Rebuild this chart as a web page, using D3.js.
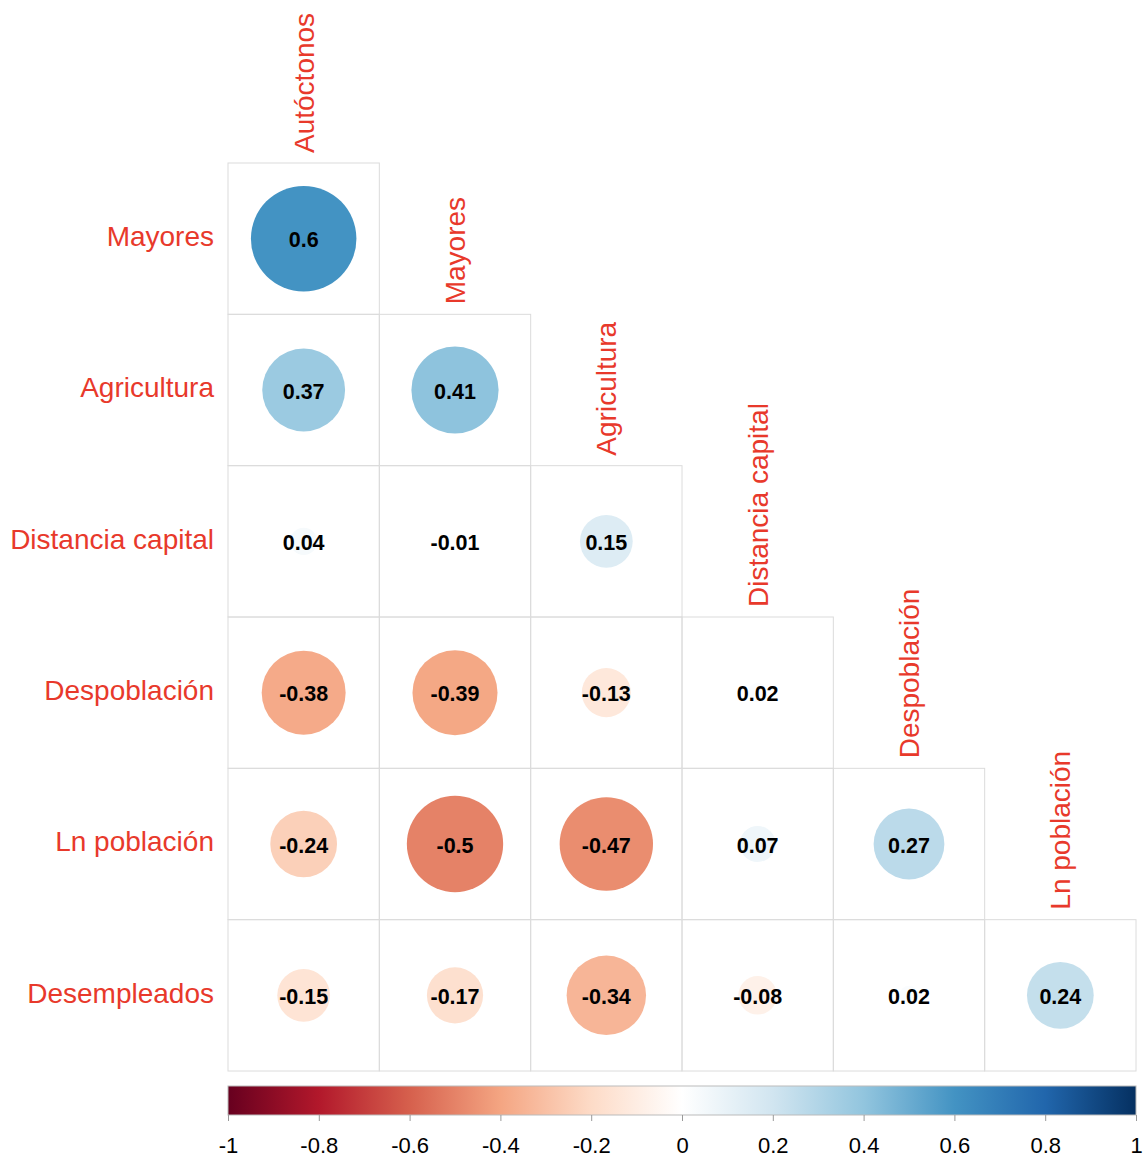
<!DOCTYPE html>
<html><head><meta charset="utf-8">
<script src="https://cdn.jsdelivr.net/npm/d3@7"></script>
<style>body{margin:0;background:#fff}</style>
</head><body>
<svg id="c" width="1146" height="1160"></svg>
<script>
const rowVars = ["Mayores","Agricultura","Distancia capital","Despoblación","Ln población","Desempleados"];
const colVars = ["Autóctonos","Mayores","Agricultura","Distancia capital","Despoblación","Ln población"];
const corrValues = [
  [0.6],
  [0.37, 0.41],
  [0.04, -0.01, 0.15],
  [-0.38, -0.39, -0.13, 0.02],
  [-0.24, -0.5, -0.47, 0.07, 0.27],
  [-0.15, -0.17, -0.34, -0.08, 0.02, 0.24]
];
const paletteColors = ["#67001F","#B2182B","#D6604D","#F4A582","#FDDBC7","#FFFFFF","#D1E5F0","#92C5DE","#4393C3","#2166AC","#053061"];
const legendTicks = [-1,-0.8,-0.6,-0.4,-0.2,0,0.2,0.4,0.6,0.8,1];

const svg = d3.select("#c");
const x0 = 228, x1 = 1136, y0 = 163, y1 = 1071;
const x = d3.scaleBand().domain(colVars.map((d,i)=>i)).range([x0,x1]);
const y = d3.scaleBand().domain(rowVars.map((d,i)=>i)).range([y0,y1]);
const cell = x.bandwidth();
const color = d3.scaleLinear().domain(d3.range(11).map(i=>-1+i*0.2)).range(paletteColors).interpolate(d3.interpolateRgb);
const rScale = v => 0.9*cell/2*Math.sqrt(Math.abs(v));
const font = "'Liberation Sans', Arial, Helvetica, sans-serif";

const cells = [];
corrValues.forEach((row,i)=>row.forEach((v,j)=>cells.push({i,j,v})));

const g = svg.append("g");
g.selectAll("rect.cell").data(cells).join("rect")
  .attr("x",d=>x(d.j)).attr("y",d=>y(d.i)).attr("width",cell).attr("height",cell)
  .attr("fill","none").attr("stroke","#dcdcdc").attr("stroke-width",1);
g.selectAll("circle").data(cells).join("circle")
  .attr("cx",d=>x(d.j)+cell/2).attr("cy",d=>y(d.i)+cell/2)
  .attr("r",d=>rScale(d.v)).attr("fill",d=>color(d.v));
g.selectAll("text.val").data(cells).join("text")
  .attr("x",d=>x(d.j)+cell/2).attr("y",d=>y(d.i)+cell/2)
  .attr("dy","0.4em").attr("text-anchor","middle")
  .attr("font-family",font).attr("font-weight","bold")
  .attr("font-size",21.5).attr("fill","#000")
  .text(d=>String(d.v));

const labColor = "#E8392B";
svg.selectAll("text.rl").data(rowVars).join("text")
  .attr("x",214).attr("y",(d,i)=>y(i)+cell/2)
  .attr("dominant-baseline","middle")
  .attr("text-anchor","end").attr("font-family",font)
  .attr("font-size",28).attr("fill",labColor).text(d=>d);
svg.selectAll("text.cl").data(colVars).join("text")
  .attr("transform",(d,j)=>`translate(${x(j)+cell/2+10},${y(j)-10}) rotate(-90)`)
  .attr("text-anchor","start").attr("font-family",font)
  .attr("font-size",28).attr("fill",labColor).text(d=>d);

// legend
const lx = d3.scaleLinear().domain([-1,1]).range([x0,x1]);
const defs = svg.append("defs");
const grad = defs.append("linearGradient").attr("id","lg");
paletteColors.forEach((c,i)=>grad.append("stop").attr("offset",(i*10)+"%").attr("stop-color",c));
svg.append("rect").attr("x",x0).attr("y",1086).attr("width",x1-x0).attr("height",29)
  .attr("fill","url(#lg)").attr("stroke","#bbb").attr("stroke-width",1);
const ax = svg.append("g").attr("transform","translate(0,1115)")
  .call(d3.axisBottom(lx).tickValues(legendTicks).tickSize(6).tickFormat(d=>String(d)));
ax.select(".domain").remove();
ax.selectAll("line").attr("stroke","#999");
ax.selectAll("text").attr("font-size",22).attr("fill","#000")
  .attr("y",38).attr("dy",null).attr("font-family",font);
</script>
</body></html>
